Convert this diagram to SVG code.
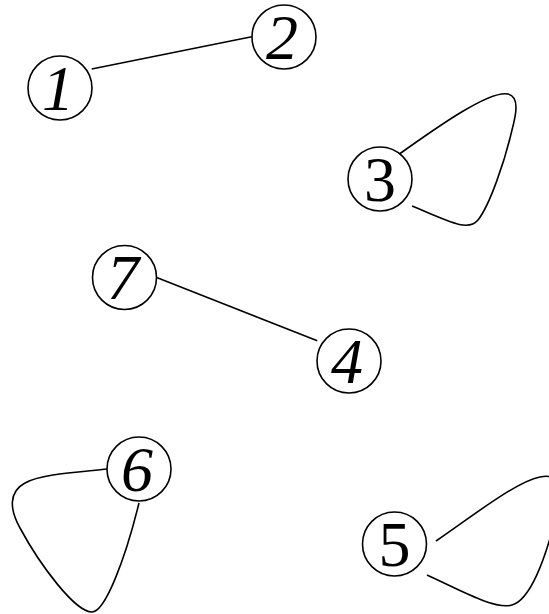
<svg xmlns="http://www.w3.org/2000/svg" width="549" height="614" viewBox="0 0 549 614">
<style>
.n circle{fill:#fff;stroke:#000;stroke-width:1.6}
.n text{font-family:"Liberation Serif","Times New Roman",serif;font-size:64px;font-style:italic;text-anchor:middle;fill:#000}
.n text.u{font-style:normal}
#edges path,#edges line{fill:none;stroke:#000;stroke-width:1.6}
</style>
<rect width="549" height="614" fill="#fff"/>
<g id="edges">
<line x1="91.7" y1="69" x2="251.7" y2="36.7"/>
<line x1="156" y1="277.3" x2="317.3" y2="340.7"/>
<path d="M398,155 C440,125 490,90 508,94 C520,97 516,115 512,130 C505,160 490,205 478,220 C468,232 450,222 412,206"/>
<path d="M107,469 C80,472 40,474 25,483 C8,492 10,510 20,528 C40,565 75,612 92,612 C105,612 125,560 139,503"/>
<path d="M436,541 C470,518 515,482 540,477 C565,472 560,495 555,520 C545,560 530,600 512,605 C495,610 460,590 427,575"/>
</g>
<g id="node1" class="n"><circle cx="60" cy="88" r="32"/><text x="58" y="109.5">1</text></g>
<g id="node2" class="n"><circle cx="284" cy="37" r="32"/><text x="282" y="58.5">2</text></g>
<g id="node3" class="n"><circle cx="380" cy="179" r="32"/><text class="u" x="380" y="200.5">3</text></g>
<g id="node7" class="n"><circle cx="124.5" cy="277.5" r="32"/><text x="123" y="299">7</text></g>
<g id="node4" class="n"><circle cx="349" cy="361" r="32"/><text x="347" y="382.5">4</text></g>
<g id="node6" class="n"><circle cx="139" cy="469" r="32"/><text x="137" y="490.5">6</text></g>
<g id="node5" class="n"><circle cx="394.5" cy="544" r="32"/><text class="u" x="394.5" y="565.5">5</text></g>
</svg>
